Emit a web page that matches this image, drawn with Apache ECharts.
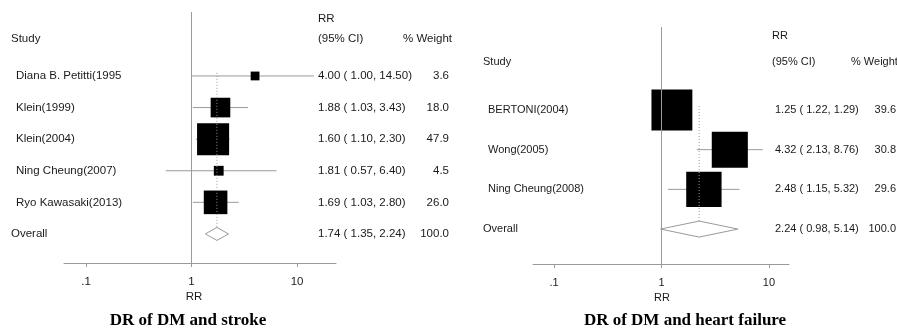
<!DOCTYPE html>
<html>
<head>
<meta charset="utf-8">
<script src="https://cdn.jsdelivr.net/npm/echarts@6/dist/echarts.min.js"></script>
<style>
html,body{margin:0;padding:0;background:#fff;}
#chart{width:897px;height:331px;}
</style>
</head>
<body>
<div id="chart"></div>
<script>
// ---- data ----
const strokeStudies = ['Diana B. Petitti(1995', 'Klein(1999)', 'Klein(2004)', 'Ning Cheung(2007)', 'Ryo Kawasaki(2013)'];
const strokeRR = [4.00, 1.88, 1.60, 1.81, 1.69];
const strokeLo = [1.00, 1.03, 1.10, 0.57, 1.03];
const strokeHi = [14.50, 3.43, 2.30, 6.40, 2.80];
const strokeWeight = [3.6, 18.0, 47.9, 4.5, 26.0];
const strokeOverall = { label: 'Overall', rr: 1.74, lo: 1.35, hi: 2.24, weight: 100.0 };

const hfStudies = ['BERTONI(2004)', 'Wong(2005)', 'Ning Cheung(2008)'];
const hfRR = [1.25, 4.32, 2.48];
const hfLo = [1.22, 2.13, 1.15];
const hfHi = [1.29, 8.76, 5.32];
const hfWeight = [39.6, 30.8, 29.6];
const hfOverall = { label: 'Overall', rr: 2.24, lo: 0.98, hi: 5.14, weight: 100.0 };

const tickValues = [0.1, 1, 10];
const tickLabels = ['.1', '1', '10'];
const titles = ['DR of DM and stroke', 'DR of DM and heart failure'];

// ---- helpers ----
function fmt2(v) { return v.toFixed(2); }
function ciText(rr, lo, hi) { return fmt2(rr) + ' ( ' + fmt2(lo) + ', ' + fmt2(hi) + ')'; }

function buildData(names, rr, lo, hi, w, overall) {
  const d = names.map((n, i) => ({ value: [rr[i], i + 1, lo[i], hi[i], w[i], 0], name: n }));
  d.push({ value: [overall.rr, names.length + 1, overall.lo, overall.hi, overall.weight, 1], name: overall.label });
  return d;
}

const FONT = 'Liberation Sans, Arial, sans-serif';
const TXT = '#1a1a1a';
const GREY = '#9a9a9a';

const panels = [
  { data: buildData(strokeStudies, strokeRR, strokeLo, strokeHi, strokeWeight, strokeOverall),
    nameX: 16, overallX: 11, ciX: 318, wX: 449, box: 4.63, dia: 6.5, fs: 11.5 },
  { data: buildData(hfStudies, hfRR, hfLo, hfHi, hfWeight, hfOverall),
    nameX: 488, overallX: 483, ciX: 775, wX: 896, box: 6.5, dia: 8, fs: 11 }
];

function makeRender(p) {
  return function (params, api) {
    const est = api.value(0), row = api.value(1), lo = api.value(2), hi = api.value(3), w = api.value(4), ov = api.value(5);
    const c = api.coord([est, row]);
    const cl = api.coord([lo, row]);
    const ch = api.coord([hi, row]);
    const children = [];
    const name = p.data[params.dataIndex].name;
    if (ov) {
      const top = api.coord([est, 0.9]);
      children.push({ type: 'line', shape: { x1: c[0], y1: top[1], x2: c[0], y2: c[1] + p.dia },
        style: { stroke: GREY, lineWidth: 1, lineDash: [1, 2] } });
      children.push({ type: 'polygon', shape: { points: [[cl[0], c[1]], [c[0], c[1] - p.dia], [ch[0], c[1]], [c[0], c[1] + p.dia]] },
        style: { fill: '#fff', stroke: GREY, lineWidth: 1 } });
    } else {
      children.push({ type: 'line', shape: { x1: cl[0], y1: c[1], x2: ch[0], y2: c[1] },
        style: { stroke: GREY, lineWidth: 1 } });
      const s = p.box * Math.sqrt(w);
      children.push({ type: 'rect', shape: { x: c[0] - s / 2, y: c[1] - s / 2, width: s, height: s },
        style: { fill: '#000' } });
    }
    const tstyle = { fill: TXT, fontSize: p.fs, fontFamily: FONT, verticalAlign: 'middle' };
    children.push({ type: 'text', x: ov ? p.overallX : p.nameX, y: c[1], style: Object.assign({ text: name, align: 'left' }, tstyle) });
    children.push({ type: 'text', x: p.ciX, y: c[1], style: Object.assign({ text: ciText(est, lo, hi), align: 'left' }, tstyle) });
    children.push({ type: 'text', x: p.wX, y: c[1], style: Object.assign({ text: w.toFixed(1), align: 'right' }, tstyle) });
    return { type: 'group', children: children };
  };
}

function xAxisCfg(gi, min, max, fs) {
  return {
    gridIndex: gi, type: 'log', logBase: 10, min: min, max: max, position: 'bottom',
    axisLine: { show: true, onZero: false, lineStyle: { color: GREY, width: 1 } },
    axisTick: { show: true, length: 4, customValues: tickValues, lineStyle: { color: GREY } },
    axisLabel: { show: true, customValues: tickValues, margin: 13, color: TXT, fontSize: fs, fontFamily: FONT,
      formatter: function (v) { const i = tickValues.findIndex(t => Math.abs(t - v) / t < 1e-6); return i >= 0 ? tickLabels[i] : ''; } },
    splitLine: { show: false }
  };
}

function hdr(x, y, t, fs) {
  return { type: 'text', x: x, y: y, style: { text: t, fill: TXT, fontSize: fs, fontFamily: FONT, verticalAlign: 'middle', align: 'left' } };
}

const chart = echarts.init(document.getElementById('chart'), null, { renderer: 'canvas' });
chart.setOption({
  backgroundColor: '#fff',
  animation: false,
  grid: [
    { left: 64, top: 12, width: 272, height: 251 },
    { left: 533, top: 27, width: 256, height: 237 }
  ],
  xAxis: [xAxisCfg(0, 0.0618, 23.4, 11.5), xAxisCfg(1, 0.0638, 15.35, 11)],
  yAxis: [
    { gridIndex: 0, type: 'value', inverse: true, min: -1.025, max: 6.92, show: false },
    { gridIndex: 1, type: 'value', inverse: true, min: -1.09, max: 4.88, show: false }
  ],
  series: panels.map((p, i) => ({
    type: 'custom', xAxisIndex: i, yAxisIndex: i, clip: false, silent: true,
    renderItem: makeRender(p),
    encode: { x: 0, y: 1 },
    data: p.data,
    markLine: { silent: true, symbol: 'none', label: { show: false },
      lineStyle: { color: GREY, width: 1, type: 'solid' }, data: [{ xAxis: 1 }] }
  })),
  graphic: [
    hdr(11, 39, 'Study', 11.5), hdr(318, 19, 'RR', 11.5), hdr(318, 39, '(95% CI)', 11.5), hdr(403, 39, '% Weight', 11.5),
    hdr(483, 62, 'Study', 11), hdr(772, 36, 'RR', 11), hdr(772, 62, '(95% CI)', 11), hdr(851, 62, '% Weight', 11),
    { type: 'text', x: 194, y: 297, style: { text: 'RR', fill: TXT, fontSize: 11.5, fontFamily: FONT, align: 'center', verticalAlign: 'middle' } },
    { type: 'text', x: 662, y: 298, style: { text: 'RR', fill: TXT, fontSize: 11, fontFamily: FONT, align: 'center', verticalAlign: 'middle' } },
    { type: 'text', x: 188, y: 321, style: { text: titles[0], fill: '#000', fontSize: 17, fontWeight: 'bold', fontFamily: 'Liberation Serif, Times New Roman, serif', align: 'center', verticalAlign: 'middle' } },
    { type: 'text', x: 685, y: 321, style: { text: titles[1], fill: '#000', fontSize: 17, fontWeight: 'bold', fontFamily: 'Liberation Serif, Times New Roman, serif', align: 'center', verticalAlign: 'middle' } }
  ]
});
</script>
</body>
</html>
